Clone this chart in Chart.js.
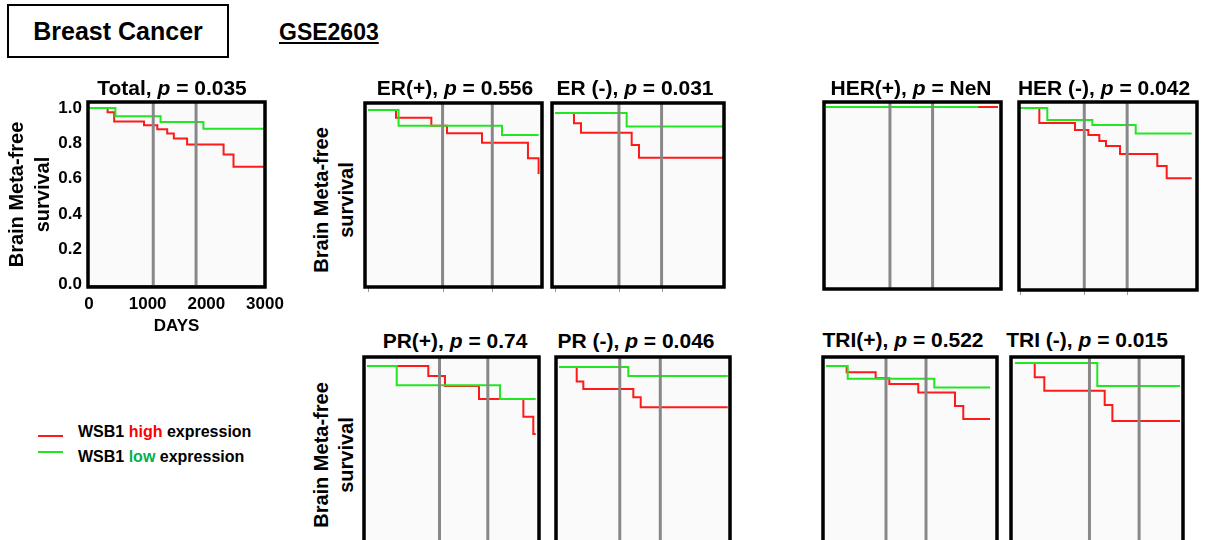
<!DOCTYPE html>
<html>
<head>
<meta charset="utf-8">
<script src="https://cdn.jsdelivr.net/npm/chart.js@4.4.0/dist/chart.umd.min.js"></script>
<style>
  body { margin: 0; width: 1209px; height: 540px; background: #fff; position: relative; overflow: hidden;
         font-family: "Liberation Sans", Arial, sans-serif; font-weight: bold; color: #000; }
  canvas { position: absolute; }
  .abs { position: absolute; white-space: nowrap; }
  .ttl { position: absolute; font-size: 21px; white-space: nowrap; transform: translate(-50%, -50%); }
  .ylab { position: absolute; font-size: 20px; line-height: 25px; text-align: center; white-space: nowrap;
          transform: translate(-50%, -50%) rotate(-90deg); }
  .swatch { position: absolute; width: 25px; height: 2px; }
</style>
</head>
<body>
<div class="abs" style="left:7px;top:4px;width:218px;height:50px;border:2px solid #000;font-size:25px;line-height:50px;text-align:center;">Breast Cancer</div>
<div class="abs" style="left:279px;top:19px;font-size:23px;text-decoration:underline;">GSE2603</div>

<div class="ylab" style="left:334px;top:200px;">Brain Meta-free<br>survival</div>
<div class="ylab" style="left:334px;top:455px;">Brain Meta-free<br>survival</div>

<div class="swatch" style="left:38px;top:435px;background:#ff1a1a;"></div>
<div class="swatch" style="left:38px;top:451px;background:#22e622;"></div>
<div class="abs" style="left:78px;top:423px;font-size:16px;">WSB1 <span style="color:#ff0000">high</span> expression</div>
<div class="abs" style="left:78px;top:448px;font-size:16px;">WSB1 <span style="color:#00b050">low</span> expression</div>

<canvas id="cTotal" width="290" height="250" style="left:0px;top:95px"></canvas>
<canvas id="cErPos"></canvas>
<canvas id="cErNeg"></canvas>
<canvas id="cHerPos"></canvas>
<canvas id="cHerNeg"></canvas>
<canvas id="cPrPos"></canvas>
<canvas id="cPrNeg"></canvas>
<canvas id="cTriPos"></canvas>
<canvas id="cTriNeg"></canvas>

<script>
// survival curves as [day, survival after the step]; low = green, high = red
const totalLow   = [[0,1],[450,0.953],[1220,0.921],[1950,0.883],[3000,0.883]];
const totalHigh  = [[0,1],[317,0.976],[429,0.924],[938,0.902],[1164,0.88],[1333,0.855],[1446,0.827],[1672,0.793],[2294,0.736],[2463,0.667],[3000,0.667]];
const erPosLow   = [[0,1],[449,0.91],[1968,0.856],[2505,0.856]];
const erPosHigh  = [[0,1],[411,0.956],[930,0.91],[1160,0.866],[1674,0.812],[2349,0.722],[2505,0.632]];
const erNegLow   = [[0,1],[1227,0.921],[2894,0.921]];
const erNegHigh  = [[0,1],[325,0.94],[445,0.885],[1313,0.813],[1438,0.739],[2894,0.739]];
const herPosLow  = [[0,1],[2608,1]];
const herPosHigh = [[0,1],[2945,1]];
const herNegLow  = [[0,1],[465,0.933],[1232,0.904],[1971,0.857],[2925,0.857]];
const herNegHigh = [[0,1],[329,0.916],[937,0.876],[1164,0.848],[1351,0.815],[1465,0.787],[1704,0.742],[2339,0.674],[2499,0.605],[2925,0.605]];
const prPosLow   = [[0,1],[449,0.889],[2009,0.81],[2548,0.81]];
const prPosHigh  = [[0,1],[926,0.943],[1178,0.885],[1692,0.81],[2362,0.709],[2512,0.609],[2548,0.609]];
const prNegLow   = [[0,1],[1249,0.948],[3040,0.948]];
const prNegHigh  = [[0,1],[319,0.916],[438,0.874],[1339,0.826],[1472,0.768],[3040,0.768]];
const triPosLow  = [[0,1],[396,0.927],[1976,0.877],[2993,0.877]];
const triPosHigh = [[0,1],[377,0.964],[906,0.929],[1155,0.897],[1684,0.847],[2354,0.77],[2505,0.695],[2993,0.695]];
const triNegLow  = [[0,1],[1210,0.87],[2426,0.87]];
const triNegHigh = [[0,1],[290,0.919],[431,0.843],[1319,0.763],[1432,0.672],[2426,0.672]];

const markDays = [1095, 1825];           // 3 and 5 year lines
const tickDays = [0, 1095, 1825];        // little ticks under some frames
const yTicks = [0, 0.2, 0.4, 0.6, 0.8, 1.0];
const xTicks = [0, 1000, 2000, 3000];

const titles = [
  ["Total", "0.035", 172, 88], ["ER(+)", "0.556", 455, 88], ["ER (-)", "0.031", 635, 88],
  ["HER(+)", "NeN", 911, 88], ["HER (-)", "0.042", 1104, 88],
  ["PR(+)", "0.74", 455, 341], ["PR (-)", "0.046", 636, 341],
  ["TRI(+)", "0.522", 903, 340], ["TRI (-)", "0.015", 1087, 340]
];
titles.forEach(t => {
  const d = document.createElement("div");
  d.className = "ttl";
  d.style.left = t[2] + "px";
  d.style.top = t[3] + "px";
  d.innerHTML = t[0] + ", <i>p</i> = " + t[1];
  document.body.appendChild(d);
});

const RED = "#ff1a1a", GREEN = "#22e622";
const FONT = "'Liberation Sans', Arial, sans-serif";

// background, gray year lines and the heavy frame
const kmDecor = {
  id: "kmDecor",
  beforeDatasetsDraw(chart) {
    const a = chart.chartArea, ctx = chart.ctx;
    ctx.save();
    ctx.fillStyle = "#fafafa";
    ctx.fillRect(a.left, a.top, a.right - a.left, a.bottom - a.top);
    ctx.restore();
  },
  afterDatasetsDraw(chart, args, opts) {
    const a = chart.chartArea, ctx = chart.ctx;
    const x = chart.scales.x, y = chart.scales.y;
    ctx.save();
    if (opts.zeroLine) {
      ctx.strokeStyle = "#777";
      ctx.lineWidth = 1;
      const zy = Math.round(y.getPixelForValue(0)) + 0.5;
      ctx.beginPath(); ctx.moveTo(a.left, zy); ctx.lineTo(a.right, zy); ctx.stroke();
    }
    ctx.strokeStyle = "#888";
    ctx.lineWidth = 3;
    markDays.forEach(d => {
      const px = x.getPixelForValue(d);
      ctx.beginPath(); ctx.moveTo(px, a.top); ctx.lineTo(px, a.bottom); ctx.stroke();
    });
    if (opts.bottomTicks) {
      ctx.strokeStyle = "#999";
      ctx.lineWidth = 1;
      tickDays.forEach(d => {
        const px = Math.round(x.getPixelForValue(d)) + 0.5;
        ctx.beginPath(); ctx.moveTo(px, a.bottom); ctx.lineTo(px, a.bottom + 5); ctx.stroke();
      });
    }
    ctx.strokeStyle = "#000";
    ctx.lineWidth = 3.5;
    ctx.strokeRect(a.left, a.top, a.right - a.left, a.bottom - a.top);
    ctx.restore();
  }
};

function series(low, high) {
  const toPts = arr => arr.map(p => ({ x: p[0], y: p[1] }));
  return [
    { label: "low", data: toPts(low), borderColor: GREEN, borderWidth: 2, stepped: "before", pointRadius: 0, fill: false },
    { label: "high", data: toPts(high), borderColor: RED, borderWidth: 2, stepped: "before", pointRadius: 0, fill: false }
  ];
}

// panel: frame box [L,T,R,B] in page px, day-0 pixel, px per day, pixel of 1.0 and of 0.0
function panel(id, box, x0, ppd, y1, y0, low, high, bottomTicks) {
  const pad = 3, padB = 7;
  const [L, T, R, B] = box;
  const cv = document.getElementById(id);
  cv.width = R - L + 2 * pad;
  cv.height = B - T + pad + padB;
  cv.style.left = (L - pad) + "px";
  cv.style.top = (T - pad) + "px";
  const unit = y0 - y1;
  new Chart(cv, {
    type: "line",
    data: { datasets: series(low, high) },
    options: {
      responsive: false, animation: false,
      layout: { padding: { left: pad, right: pad, top: pad, bottom: padB } },
      plugins: { legend: { display: false }, tooltip: { enabled: false }, kmDecor: { zeroLine: false, bottomTicks: !!bottomTicks } },
      scales: {
        x: { type: "linear", display: false, min: -(x0 - L) / ppd, max: (R - x0) / ppd },
        y: { display: false, min: -(B - y0) / unit, max: 1 + (y1 - T) / unit }
      }
    },
    plugins: [kmDecor]
  });
}

// Total panel with visible axes; frame 88..265 x 102..287
new Chart(document.getElementById("cTotal"), {
  type: "line",
  data: { datasets: series(totalLow, totalHigh) },
  options: {
    responsive: false, animation: false,
    layout: { padding: { left: 0, top: 7, right: 25, bottom: 5 } },
    plugins: { legend: { display: false }, tooltip: { enabled: false }, kmDecor: { zeroLine: true } },
    scales: {
      x: {
        type: "linear", min: -17, max: 3000,
        grid: { display: false, drawTicks: false }, border: { display: false },
        afterBuildTicks: s => { s.ticks = xTicks.map(v => ({ value: v })); },
        afterFit: s => { s.height = 53; s.paddingLeft = 0; s.paddingRight = 0; },
        ticks: { color: "#000", padding: 7, maxRotation: 0, autoSkip: false, font: { family: FONT, size: 17, weight: "bold" },
                 callback: v => String(v) },
        title: { display: true, text: "DAYS", color: "#000", padding: { top: 0, bottom: 3 }, font: { family: FONT, size: 17, weight: "bold" } }
      },
      y: {
        min: -2.5 / 176.5, max: 1 + 6 / 176.5,
        grid: { display: false, drawTicks: false }, border: { display: false },
        afterBuildTicks: s => { s.ticks = yTicks.map(v => ({ value: v })); },
        afterFit: s => { s.width = 88; s.paddingTop = 0; s.paddingBottom = 0; },
        ticks: { color: "#000", padding: 6, font: { family: FONT, size: 17, weight: "bold" }, callback: v => v.toFixed(1) },
        title: { display: true, text: ["Brain Meta-free", "survival"], color: "#000", padding: { top: 4, bottom: 0 },
                 font: { family: FONT, size: 20, weight: "bold", lineHeight: 1.3 } }
      }
    }
  },
  plugins: [kmDecor]
});

panel("cErPos",  [365, 103, 542, 287], 368, 0.0681, 110, 284, erPosLow, erPosHigh, true);
panel("cErNeg",  [552, 103, 724, 287], 555, 0.0584, 113, 284, erNegLow, erNegHigh, true);
panel("cHerPos", [824, 102, 1001, 289], 826, 0.0584, 107, 285, herPosLow, herPosHigh, false);
panel("cHerNeg", [1019, 102, 1197, 290], 1020, 0.0587, 108, 286, herNegLow, herNegHigh, true);
panel("cPrPos",  [364, 357, 539, 545], 367, 0.0662, 366, 540, prPosLow, prPosHigh, false);
panel("cPrNeg",  [556, 357, 730, 545], 559, 0.0555, 367, 541, prNegLow, prNegHigh, false);
panel("cTriPos", [823, 357, 997, 545], 826, 0.0548, 366, 540, triPosLow, triPosHigh, false);
panel("cTriNeg", [1011, 357, 1183, 545], 1015, 0.068, 363, 540, triNegLow, triNegHigh, false);
</script>
</body>
</html>
